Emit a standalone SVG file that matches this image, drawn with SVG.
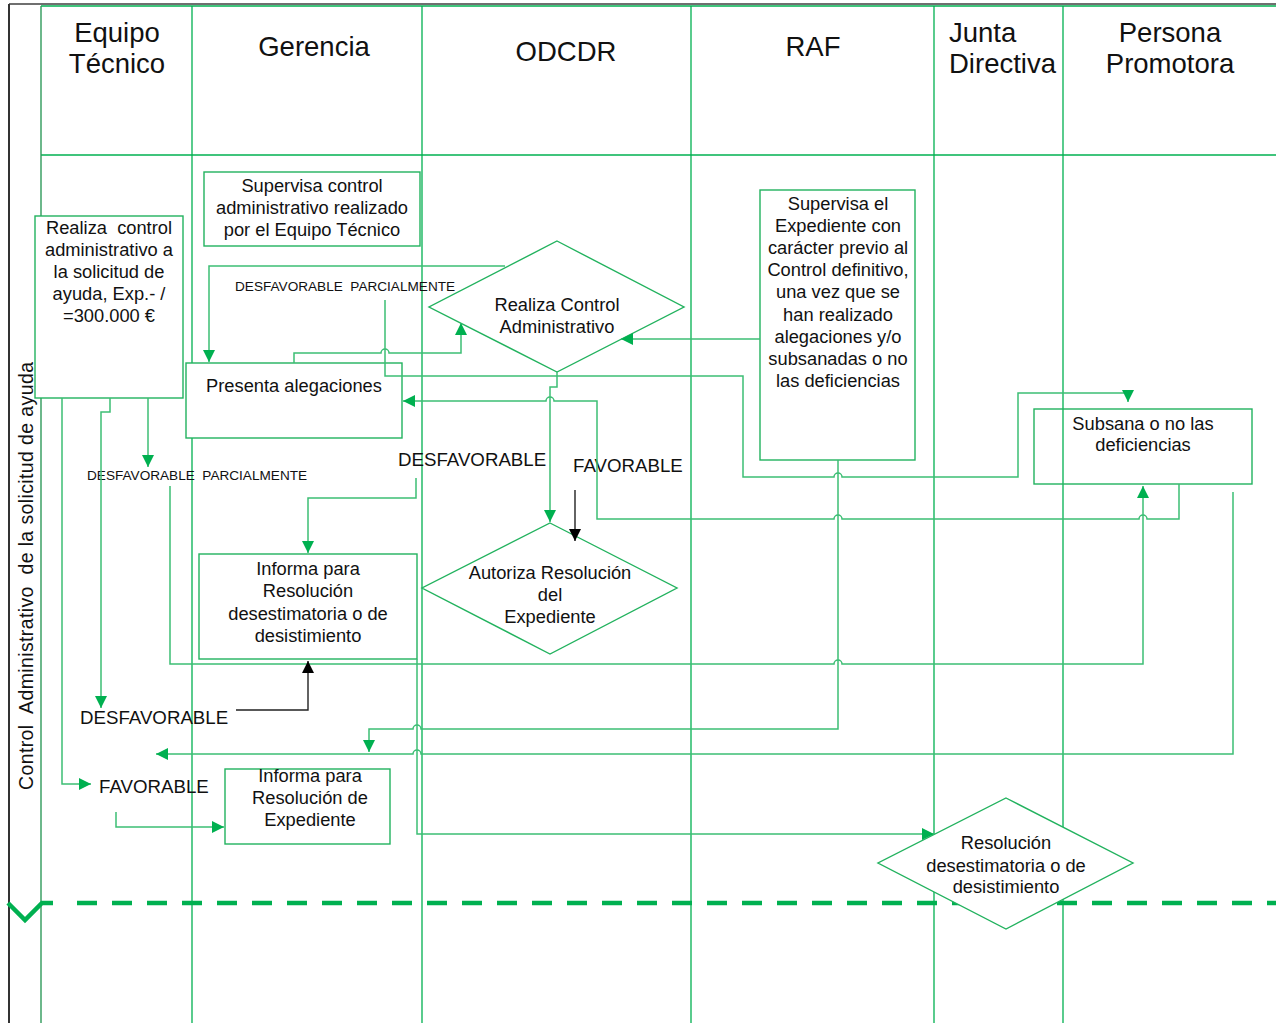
<svg xmlns="http://www.w3.org/2000/svg" width="1276" height="1023" viewBox="0 0 1276 1023">
<style>
text{font-family:"Liberation Sans",Arial,sans-serif;fill:#111;}
.lane{stroke:#00B050;stroke-width:1.3;fill:none;}
.title{font-size:27.5px;text-anchor:middle;}
.box{fill:#fff;stroke:#22B25E;stroke-width:1.4;}
.boxt{fill:none;stroke:#22B25E;stroke-width:1.4;}
.nt{font-size:18.3px;text-anchor:middle;}
.lbl{font-size:18.7px;}
.sm{font-size:13.6px;white-space:pre;}
.c{fill:none;stroke:#3DBE74;stroke-width:1.5;}
.k{fill:none;stroke:#222;stroke-width:1.4;}
</style>
<defs>
<marker id="ag" viewBox="0 0 12 12" refX="12" refY="6" markerWidth="12" markerHeight="12" markerUnits="userSpaceOnUse" orient="auto"><path d="M0,0 L12,6 L0,12 z" fill="#00B050"/></marker>
<marker id="ak" viewBox="0 0 12 12" refX="12" refY="6" markerWidth="12" markerHeight="12" markerUnits="userSpaceOnUse" orient="auto"><path d="M0,0 L12,6 L0,12 z" fill="#000"/></marker>
</defs>
<rect width="1276" height="1023" fill="#fff"/>
<g id="frame">
<line x1="9" y1="4" x2="1276" y2="4" stroke="#6f6f6f" stroke-width="2"/>
<line x1="9" y1="4" x2="9" y2="1023" stroke="#333" stroke-width="2"/>
<line x1="41" y1="6" x2="1276" y2="6" class="lane"/>
<line x1="41" y1="155" x2="1276" y2="155" class="lane"/>
<line x1="41" y1="6" x2="41" y2="1023" stroke="#2E9A5A" stroke-width="1.4"/>
<line x1="192" y1="6" x2="192" y2="1023" class="lane"/>
<line x1="422" y1="6" x2="422" y2="1023" class="lane"/>
<line x1="691" y1="6" x2="691" y2="1023" class="lane"/>
<line x1="934" y1="6" x2="934" y2="1023" class="lane"/>
<line x1="1063" y1="6" x2="1063" y2="1023" class="lane"/>
</g>
<g id="titles">
<text class="title" x="117" y="42">Equipo</text>
<text class="title" x="117" y="73">Técnico</text>
<text class="title" x="314" y="56">Gerencia</text>
<text class="title" x="566" y="61">ODCDR</text>
<text class="title" x="813" y="56">RAF</text>
<text class="title" x="949" y="42" style="text-anchor:start">Junta</text>
<text class="title" x="949" y="73" style="text-anchor:start">Directiva</text>
<text class="title" x="1170" y="42">Persona</text>
<text class="title" x="1170" y="73">Promotora</text>
<text x="0" y="0" transform="translate(33,790) rotate(-90)" style="font-size:19.5px;white-space:pre" textLength="428" lengthAdjust="spacing">Control  Administrativo  de la solicitud de ayuda</text>
</g>
<g id="separator">
<polyline points="8,903 25,920 42,903 53,903" fill="none" stroke="#00B050" stroke-width="4.5"/>
<line x1="77" y1="903" x2="1276" y2="903" stroke="#00B050" stroke-width="4.5" stroke-dasharray="20 15"/>
</g>
<g id="n1"><rect class="box" x="35" y="216" width="148" height="182"/>
<text class="nt" x="109" y="234" style="white-space:pre">Realiza  control</text>
<text class="nt" x="109" y="256">administrativo a</text>
<text class="nt" x="109" y="278">la solicitud de</text>
<text class="nt" x="109" y="300">ayuda, Exp.- /</text>
<text class="nt" x="109" y="322">=300.000 €</text></g>
<g id="n2"><rect class="box" x="204" y="172" width="216" height="74"/>
<text class="nt" x="312" y="192">Supervisa control</text>
<text class="nt" x="312" y="214">administrativo realizado</text>
<text class="nt" x="312" y="236">por el Equipo Técnico</text></g>
<g id="n3"><polygon class="box" points="557,241 684,307 557,372 429,307"/>
<text class="nt" x="557" y="311">Realiza Control</text>
<text class="nt" x="557" y="333">Administrativo</text></g>
<g id="n4"><rect class="box" x="186" y="363" width="216" height="75"/>
<text class="nt" x="294" y="392">Presenta alegaciones</text></g>
<g id="n5"><rect class="box" x="760" y="190" width="155" height="270"/>
<text class="nt" x="838" y="210">Supervisa el</text>
<text class="nt" x="838" y="232">Expediente con</text>
<text class="nt" x="838" y="254">carácter previo al</text>
<text class="nt" x="838" y="276">Control definitivo,</text>
<text class="nt" x="838" y="298">una vez que se</text>
<text class="nt" x="838" y="321">han realizado</text>
<text class="nt" x="838" y="343">alegaciones y/o</text>
<text class="nt" x="838" y="365">subsanadas o no</text>
<text class="nt" x="838" y="387">las deficiencias</text></g>
<g id="n6"><rect class="boxt" x="1034" y="409" width="218" height="75"/>
<text class="nt" x="1143" y="430">Subsana o no las</text>
<text class="nt" x="1143" y="451">deficiencias</text></g>
<g id="n7"><rect class="box" x="199" y="554" width="218" height="105"/>
<text class="nt" x="308" y="575">Informa para</text>
<text class="nt" x="308" y="597">Resolución</text>
<text class="nt" x="308" y="620">desestimatoria o de</text>
<text class="nt" x="308" y="642">desistimiento</text></g>
<g id="n8"><polygon class="box" points="550,523 677,588 550,654 422,588"/>
<text class="nt" x="550" y="579">Autoriza Resolución</text>
<text class="nt" x="550" y="601">del</text>
<text class="nt" x="550" y="623">Expediente</text></g>
<g id="n9"><rect class="box" x="225" y="769" width="165" height="75"/>
<text class="nt" x="310" y="782">Informa para</text>
<text class="nt" x="310" y="804">Resolución de</text>
<text class="nt" x="310" y="826">Expediente</text></g>
<g id="n10"><polygon class="box" points="1006,798 1133,863 1006,929 878,863"/>
<text class="nt" x="1006" y="849">Resolución</text>
<text class="nt" x="1006" y="872">desestimatoria o de</text>
<text class="nt" x="1006" y="893">desistimiento</text></g>
<g id="labels">
<text class="sm" x="235" y="291">DESFAVORABLE  PARCIALMENTE</text>
<text class="sm" x="87" y="480">DESFAVORABLE  PARCIALMENTE</text>
<text class="lbl" x="398" y="466">DESFAVORABLE</text>
<text class="lbl" x="573" y="472">FAVORABLE</text>
<text class="lbl" x="80" y="724">DESFAVORABLE</text>
<text class="lbl" x="99" y="793">FAVORABLE</text>
</g>
<g id="connectors">
<path class="c" d="M505,266 H209 V362" marker-end="url(#ag)"/>
<path class="c" d="M294,363 V353 H381 A4,4 0 0 1 389,353 H461 V323" marker-end="url(#ag)"/>
<path class="c" d="M385,300 V376 H743 V477 H834 A4,4 0 0 1 842,477 H1018 V393 H1128 V402" marker-end="url(#ag)"/>
<path class="c" d="M557,372 V387 H550 V522" marker-end="url(#ag)"/>
<path class="c" d="M760,339 H621" marker-end="url(#ag)"/>
<path class="c" d="M1179,484 V519 H1147 A4,4 0 0 0 1139,519 H842 A4,4 0 0 0 834,519 H597 V401 H554 A4,4 0 0 0 546,401 H403" marker-end="url(#ag)"/>
<path class="c" d="M148,398 V467" marker-end="url(#ag)"/>
<path class="c" d="M110,398 V412 H101 V708" marker-end="url(#ag)"/>
<path class="c" d="M62,398 V784 H91" marker-end="url(#ag)"/>
<path class="c" d="M170,486 V664 H834 A4,4 0 0 1 842,664 H1143 V486" marker-end="url(#ag)"/>
<path class="c" d="M838,460 V729 H421 A4,4 0 0 0 413,729 H369 V752" marker-end="url(#ag)"/>
<path class="c" d="M1233,492 V754 H421 A4,4 0 0 0 413,754 H156" marker-end="url(#ag)"/>
<path class="c" d="M416,478 V498 H308 V553" marker-end="url(#ag)"/>
<path class="c" d="M417,659 V834 H934" marker-end="url(#ag)"/>
<path class="c" d="M116,812 V827 H224" marker-end="url(#ag)"/>
<path class="k" d="M236,710 H308 V661" marker-end="url(#ak)"/>
<path class="k" d="M575,490 V541" marker-end="url(#ak)"/>
</g>
</svg>
